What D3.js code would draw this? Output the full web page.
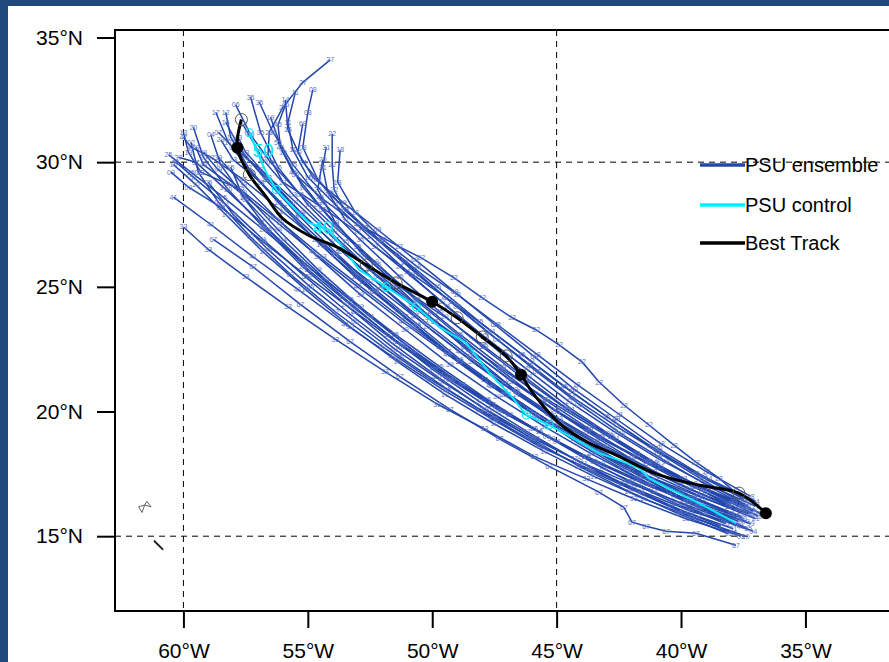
<html>
<head>
<meta charset="utf-8">
<script src="https://cdn.jsdelivr.net/npm/d3@7"></script>
<style>
  body { margin:0; background:#1f497d; }
  text { font-family: "Liberation Sans", Arial, sans-serif; }
</style>
</head>
<body>
<script>
// axis ticks
var lonTicks = [-60, -55, -50, -45, -40, -35];
var latTicks = [15, 20, 25, 30, 35];
var gridLon = [-60, -45];
var gridLat = [15, 30];

// ensemble member ids and tracks (lon, lat), SE -> NW
var ensMembers = ["33","41","09","25","13","49","47","99","07","17","21","15","05","35","35","19","03","55","27","45","11","69","22","31","29","39","43","37","23","51","67",
                  "02","04","06","08","10","12","14","16","18","20"];
var ensTracks = [
 [[-37.9,15.1],[-39.8,15.7],[-41.9,16.5],[-43.8,17.3],[-45.9,18.2],[-47.9,19.3],[-49.8,20.3],[-51.9,21.6],[-53.9,22.9],[-55.8,24.2],[-57.5,25.4],[-59.0,26.5],[-60.0,27.4]],
 [[-37.6,15.4],[-39.6,16.0],[-41.6,16.8],[-43.7,17.7],[-45.7,18.6],[-47.6,19.7],[-49.6,20.9],[-51.6,22.2],[-53.5,23.5],[-55.4,24.9],[-57.2,26.2],[-58.9,27.5],[-60.4,28.6]],
 [[-37.4,15.6],[-39.5,16.3],[-41.5,17.1],[-43.5,18.0],[-45.4,19.0],[-47.4,20.1],[-49.3,21.3],[-51.2,22.6],[-53.1,24.0],[-55.0,25.4],[-56.8,26.8],[-58.5,28.2],[-59.8,29.0],[-60.5,29.6]],
 [[-38.2,15.5],[-40.2,16.3],[-42.1,17.2],[-44.0,18.2],[-45.9,19.3],[-47.8,20.5],[-49.7,21.8],[-51.5,23.1],[-53.3,24.5],[-55.1,25.9],[-56.8,27.3],[-58.4,28.6],[-59.7,29.6],[-60.6,30.3]],
 [[-37.3,15.9],[-39.3,16.6],[-41.3,17.4],[-43.2,18.4],[-45.1,19.5],[-47.0,20.7],[-48.9,22.0],[-50.8,23.4],[-52.6,24.8],[-54.4,26.2],[-56.1,27.6],[-57.7,28.9],[-59.3,29.6],[-59.8,30.4],[-60.0,31.2]],
 [[-38.0,15.9],[-40.0,16.8],[-42.0,17.7],[-43.9,18.7],[-45.8,19.8],[-47.6,21.0],[-49.4,22.3],[-51.2,23.6],[-53.0,25.0],[-54.8,26.4],[-56.5,27.8],[-58.1,29.1],[-59.2,29.9],[-59.5,30.6]],
 [[-37.7,16.1],[-39.7,16.9],[-41.6,17.8],[-43.5,18.8],[-45.3,19.9],[-47.1,21.1],[-48.9,22.4],[-50.7,23.8],[-52.5,25.2],[-54.3,26.6],[-56.0,28.0],[-57.6,29.3],[-58.9,30.2],[-59.7,30.6],[-60.0,31.0]],
 [[-37.2,15.5],[-39.2,16.2],[-41.2,17.0],[-43.2,17.9],[-45.2,18.9],[-47.2,20.0],[-49.2,21.3],[-51.1,22.7],[-52.9,24.2],[-54.6,25.7],[-56.2,27.3],[-57.6,28.8],[-58.6,29.7],[-59.2,30.4]],
 [[-37.5,16.3],[-39.5,17.1],[-41.4,18.0],[-43.3,19.0],[-45.1,20.1],[-46.9,21.3],[-48.7,22.6],[-50.5,24.0],[-52.2,25.4],[-53.9,26.9],[-55.5,28.4],[-56.9,29.7],[-58.0,30.6],[-58.6,31.2]],
 [[-38.3,15.7],[-40.3,16.6],[-42.2,17.6],[-44.1,18.7],[-45.9,19.9],[-47.7,21.1],[-49.4,22.4],[-51.1,23.8],[-52.8,25.2],[-54.5,26.7],[-56.0,28.2],[-57.3,29.6],[-58.2,30.8],[-58.7,32.0]],
 [[-37.0,15.7],[-39.0,16.5],[-41.0,17.4],[-42.9,18.4],[-44.8,19.5],[-46.6,20.7],[-48.4,22.0],[-50.2,23.4],[-51.9,24.9],[-53.6,26.4],[-55.2,27.9],[-56.6,29.3],[-57.5,30.2],[-57.9,30.8]],
 [[-37.8,15.8],[-39.8,16.5],[-41.8,17.3],[-43.8,18.2],[-45.7,19.2],[-47.6,20.3],[-49.5,21.5],[-51.4,22.8],[-53.2,24.2],[-55.0,25.7],[-56.6,27.3],[-57.6,28.6],[-58.1,29.8]],
 [[-37.6,15.0],[-39.6,15.8],[-41.6,16.7],[-43.6,17.6],[-45.6,18.6],[-47.5,19.7],[-49.4,20.9],[-51.3,22.2],[-53.1,23.6],[-54.9,25.0],[-56.6,26.5],[-58.0,27.9],[-59.0,29.2]],
 [[-37.4,16.2],[-39.4,17.0],[-41.3,17.9],[-43.2,18.9],[-45.0,20.0],[-46.8,21.2],[-48.5,22.5],[-50.2,23.9],[-51.9,25.3],[-53.5,26.8],[-55.0,28.3],[-56.2,29.8],[-56.9,31.2],[-57.3,32.6]],
 [[-37.1,16.0],[-39.1,16.9],[-41.0,17.9],[-42.8,19.0],[-44.6,20.1],[-46.3,21.3],[-48.0,22.6],[-49.7,24.0],[-51.3,25.4],[-52.9,26.9],[-54.4,28.4],[-55.6,29.9],[-56.4,31.2],[-56.95,32.4]],
 [[-38.1,16.2],[-40.1,17.1],[-42.0,18.1],[-43.8,19.2],[-45.6,20.4],[-47.3,21.7],[-49.0,23.1],[-50.7,24.5],[-52.3,26.0],[-53.9,27.5],[-55.2,29.0],[-56.0,30.4],[-56.5,31.8]],
 [[-37.9,16.4],[-39.9,17.3],[-41.8,18.3],[-43.6,19.4],[-45.4,20.5],[-47.2,21.7],[-49.0,23.0],[-50.8,24.3],[-52.5,25.7],[-54.1,27.2],[-55.6,28.7],[-56.8,30.1],[-57.6,31.5]],
 [[-37.3,15.3],[-39.3,16.2],[-41.2,17.2],[-43.1,18.3],[-44.9,19.5],[-46.6,20.8],[-48.3,22.2],[-49.9,23.6],[-51.5,25.1],[-53.0,26.6],[-54.4,28.1],[-55.5,29.5],[-56.2,30.8]],
 [[-37.0,16.2],[-39.0,17.1],[-40.9,18.1],[-42.7,19.2],[-44.5,20.4],[-46.2,21.7],[-47.9,23.0],[-49.6,24.4],[-51.3,25.8],[-53.0,27.2],[-54.6,28.3],[-56.0,29.2],[-56.6,30.3],[-56.55,31.2],[-56.0,32.2],[-55.2,33.2],[-54.1,34.1]],
 [[-37.5,16.5],[-39.4,17.5],[-41.2,18.6],[-43.0,19.8],[-44.7,21.0],[-46.4,22.3],[-48.1,23.6],[-49.8,25.0],[-51.4,26.3],[-53.0,27.5],[-54.5,28.6],[-55.6,29.6],[-56.1,30.6],[-56.2,31.5],[-55.9,32.3]],
 [[-36.9,15.8],[-38.9,16.8],[-40.8,17.8],[-42.6,18.9],[-44.4,20.1],[-46.1,21.4],[-47.8,22.8],[-49.4,24.2],[-51.0,25.6],[-52.5,27.0],[-53.9,28.3],[-55.0,29.4],[-55.6,30.5],[-55.8,31.6],[-55.5,32.8]],
 [[-37.2,16.4],[-39.1,17.4],[-40.9,18.5],[-42.6,19.7],[-44.3,20.9],[-45.9,22.2],[-47.5,23.5],[-49.1,24.8],[-50.7,26.1],[-52.2,27.3],[-53.6,28.4],[-54.8,29.4],[-55.4,30.4],[-55.2,31.55]],
 [[-37.47,16.45],[-38.47,17.33],[-39.4,17.97],[-40.28,18.65],[-41.29,19.46],[-42.29,20.26],[-43.29,21.18],[-43.98,21.99],[-44.9,22.67],[-45.82,23.27],[-46.79,23.76],[-47.99,24.56],[-49.12,25.36],[-50.44,26.16],[-51.33,26.61],[-52.73,27.37],[-53.53,28.09],[-53.94,28.9],[-54.02,29.9],[-54.02,31.14]],
 [[-37.3,16.2],[-39.2,17.3],[-41.0,18.4],[-42.7,19.6],[-44.4,20.8],[-46.0,22.0],[-47.6,23.2],[-49.2,24.4],[-50.8,25.5],[-52.3,26.6],[-53.5,27.7],[-54.2,28.8],[-54.4,29.8],[-54.26,30.6]],
 [[-37.6,16.0],[-39.5,17.0],[-41.3,18.0],[-43.0,19.1],[-44.7,20.2],[-46.3,21.4],[-47.9,22.6],[-49.5,23.8],[-51.3,25.0],[-52.8,26.3],[-53.9,27.6],[-54.6,28.9],[-54.4,30.1]],
 [[-37.7,15.6],[-39.7,16.4],[-41.7,17.3],[-43.6,18.3],[-45.5,19.4],[-47.4,20.6],[-49.3,21.9],[-51.1,23.3],[-52.9,24.7],[-54.6,26.2],[-56.2,27.7],[-57.6,29.1],[-58.6,30.2]],
 [[-37.2,15.9],[-39.2,16.7],[-41.1,17.6],[-43.0,18.6],[-44.9,19.7],[-46.7,20.9],[-48.5,22.2],[-50.3,23.6],[-52.0,25.0],[-53.7,26.5],[-55.3,28.0],[-56.6,29.4],[-57.5,30.4],[-57.8,31.0]],
 [[-38.4,15.4],[-40.4,16.2],[-42.4,17.1],[-44.3,18.1],[-46.2,19.2],[-48.1,20.4],[-50.0,21.7],[-51.8,23.1],[-53.6,24.6],[-55.3,26.1],[-56.9,27.6],[-58.4,29.0],[-59.5,30.0],[-60.2,30.2]],
 [[-37.5,15.7],[-39.5,16.5],[-41.5,17.4],[-43.4,18.4],[-45.3,19.5],[-47.1,20.7],[-48.9,22.0],[-50.6,23.4],[-52.3,24.8],[-53.9,26.3],[-55.5,27.8],[-56.9,29.2],[-58.0,30.1],[-58.5,30.9]],
 [[-37.9,15.3],[-39.9,16.0],[-41.9,16.9],[-43.9,17.9],[-45.8,18.9],[-47.7,20.0],[-49.6,21.2],[-51.5,22.5],[-53.3,23.9],[-55.1,25.4],[-56.8,26.9],[-58.3,28.3],[-59.6,29.4],[-60.3,30.0]],
 [[-37.79,14.64],[-39.4,15.12],[-40.6,15.2],[-41.4,15.4],[-41.97,15.56],[-42.3,16.16],[-43.3,16.77],[-45.3,17.8],[-47.3,18.9],[-49.3,20.1],[-51.3,21.4],[-53.3,22.8],[-55.3,24.3],[-57.2,25.8],[-58.8,26.9]],
 [[-37.8,15.5],[-39.9,16.3],[-42.0,17.1],[-44.1,18.0],[-46.1,19.0],[-48.1,20.1],[-50.1,21.3],[-52.0,22.6],[-53.9,24.0],[-55.7,25.5],[-57.3,27.0],[-58.6,28.4],[-59.4,29.6],[-59.7,30.8]],
 [[-37.1,15.2],[-39.1,15.9],[-41.1,16.8],[-43.1,17.7],[-45.0,18.8],[-46.9,19.9],[-48.8,21.1],[-50.7,22.4],[-52.5,23.8],[-54.3,25.3],[-56.0,26.9],[-57.5,28.5],[-58.5,29.9],[-58.9,31.1]],
 [[-38.0,16.3],[-40.0,17.2],[-41.9,18.2],[-43.7,19.3],[-45.5,20.5],[-47.2,21.8],[-48.9,23.1],[-50.6,24.5],[-52.2,25.9],[-53.8,27.3],[-55.3,28.7],[-56.5,30.0],[-57.3,31.1],[-57.9,32.3]],
 [[-36.8,15.9],[-38.7,16.9],[-40.6,18.0],[-42.4,19.1],[-44.1,20.3],[-45.8,21.6],[-47.4,22.9],[-49.0,24.2],[-50.6,25.5],[-52.1,26.8],[-53.5,28.1],[-54.6,29.3],[-55.2,30.6],[-55.0,32.0],[-54.8,32.9]],
 [[-37.4,15.0],[-39.4,15.7],[-41.5,16.5],[-43.5,17.4],[-45.5,18.4],[-47.5,19.5],[-49.5,20.7],[-51.4,22.0],[-53.3,23.4],[-55.1,24.9],[-56.8,26.4],[-58.3,27.9],[-59.5,29.1],[-60.4,29.9]],
 [[-38.5,15.9],[-40.5,16.8],[-42.4,17.8],[-44.3,18.9],[-46.1,20.0],[-47.9,21.3],[-49.7,22.6],[-51.4,24.0],[-53.1,25.4],[-54.7,26.9],[-56.2,28.4],[-57.4,29.8],[-58.1,31.0],[-58.3,32.0]],
 [[-37.0,16.4],[-38.9,17.3],[-40.8,18.3],[-42.6,19.4],[-44.4,20.6],[-46.1,21.9],[-47.8,23.2],[-49.5,24.6],[-51.1,26.0],[-52.7,27.4],[-54.1,28.7],[-55.2,30.0],[-55.8,31.3],[-55.9,32.5]],
 [[-37.6,15.8],[-39.6,16.6],[-41.5,17.5],[-43.4,18.5],[-45.3,19.6],[-47.1,20.8],[-48.9,22.1],[-50.6,23.5],[-52.3,24.9],[-53.9,26.4],[-55.4,27.9],[-56.7,29.3],[-57.7,30.5],[-58.3,31.6]],
 [[-37.2,16.6],[-39.0,17.6],[-40.8,18.7],[-42.5,19.9],[-44.2,21.1],[-45.8,22.3],[-47.4,23.5],[-49.0,24.7],[-50.6,25.8],[-52.0,26.9],[-53.1,28.0],[-53.8,29.2],[-53.7,30.5]],
 [[-38.1,15.1],[-40.1,15.9],[-42.1,16.8],[-44.1,17.8],[-46.0,18.9],[-47.9,20.1],[-49.8,21.4],[-51.7,22.8],[-53.5,24.3],[-55.2,25.8],[-56.8,27.4],[-58.2,28.9],[-59.2,30.2],[-59.6,31.4]]
];

// PSU control
var ctlLon = [-37.79,-38.88,-39.68,-40.6,-41.29,-41.69,-42.49,-43.29,-43.69,-45.3,-46.22,-46.79,-47.71,-48.63,-49.72,-50.64,-51.85,-52.93,-54.14,-54.94,-55.62,-56.27,-56.67,-56.95,-57.35];
var ctlLat = [15.52,16.12,16.53,16.97,17.33,17.73,18.05,18.33,18.57,19.46,19.86,20.58,21.55,22.75,23.39,24.2,25.0,25.68,27.29,27.57,28.21,28.9,29.58,30.22,31.18];
var ctlCircle = [9, 10, 15, 16, 21, 24];
var ctlTagText = ["50", "40"];
var ctlTagLon = [-56.8, -54.4];
var ctlTagLat = [30.5, 27.4];

// Best track, mark: f = 00Z filled, o = open
var bestLon = [-36.59,-37.67,-39.3,-41.0,-42.5,-43.8,-44.8,-45.6,-46.1,-46.43,-47.03,-47.99,-49.0,-50.0,-51.45,-52.65,-53.86,-54.94,-56.02,-56.67,-57.35,-57.83,-57.67];
var bestLat = [15.92,16.73,17.05,17.5,18.2,18.8,19.45,20.3,20.95,21.47,22.23,22.99,23.76,24.4,25.16,25.88,26.61,27.05,27.75,28.61,29.5,30.58,31.71];
var bestMark = ["f","o","","","","","","","","f","o","o","o","f","o","o","","","","","o","f","o"];

// coastline bits (Guadeloupe, Martinique)
var islands = [
 [[-61.8,16.18],[-61.66,15.95],[-61.56,16.25],[-61.8,16.18]],
 [[-61.56,16.25],[-61.47,16.4],[-61.3,16.18],[-61.56,16.25]]
];
var martinique = [[-61.16,14.8],[-60.84,14.48]];

var legendNames = ["PSU ensemble", "PSU control", "Best Track"];
var legendColors = ["#2347ab", "#00f0ff", "#000"];

var width = 889, height = 662;
var svg = d3.select("body").append("svg")
    .attr("width", width).attr("height", height)
    .style("display", "block");

svg.append("rect").attr("width", width).attr("height", height).attr("fill", "#1f497d");
svg.append("rect").attr("x", 8).attr("y", 6).attr("width", width - 8).attr("height", height - 6).attr("fill", "#fff");

var x = d3.scaleLinear().domain([-62.75, -30]).range([115, 115 + 32.75 * 24.88]);
var y = d3.scaleLinear().domain([12, 35.3]).range([611, 30]);

svg.append("clipPath").attr("id", "clip")
   .append("rect").attr("x", 115).attr("y", 30).attr("width", 820).attr("height", 581);

var plot = svg.append("g").attr("clip-path", "url(#clip)");

// grid
plot.selectAll(".gx").data(gridLon).join("line")
    .attr("x1", d => x(d)).attr("x2", d => x(d))
    .attr("y1", 30).attr("y2", 611)
    .attr("stroke", "#000").attr("stroke-width", 1).attr("stroke-dasharray", "6,5");
plot.selectAll(".gy").data(gridLat).join("line")
    .attr("y1", d => y(d)).attr("y2", d => y(d))
    .attr("x1", 115).attr("x2", 935)
    .attr("stroke", "#000").attr("stroke-width", 1).attr("stroke-dasharray", "6,5");

// islands
var geoLine = d3.line().x(d => x(d[0])).y(d => y(d[1]));
plot.selectAll(".isl").data(islands).join("path")
    .attr("d", geoLine).attr("fill", "none").attr("stroke", "#666").attr("stroke-width", 1);
plot.append("path").attr("d", geoLine(martinique))
    .attr("stroke", "#222").attr("stroke-width", 2).attr("stroke-linecap", "round");

// ensemble
var eg = plot.append("g");
eg.selectAll("path").data(ensTracks).join("path")
    .attr("d", geoLine)
    .attr("fill", "none")
    .attr("stroke", "#2347ab")
    .attr("stroke-width", 1.5);

var labs = [];
ensTracks.forEach(function(t, i) {
    t.forEach(function(p) { labs.push({lon: p[0], lat: p[1], m: ensMembers[i]}); });
});
eg.selectAll("text").data(labs).join("text")
    .attr("x", d => x(d.lon)).attr("y", d => y(d.lat) + 2.5)
    .attr("text-anchor", "middle")
    .attr("font-size", 7)
    .attr("fill", "#5a72c8")
    .text(d => d.m);

// control
var ctlPts = ctlLon.map((d, i) => [d, ctlLat[i]]);
plot.append("path").attr("d", geoLine(ctlPts))
    .attr("fill", "none").attr("stroke", "#00eaff").attr("stroke-width", 2);
plot.selectAll(".cc").data(ctlCircle).join("circle")
    .attr("cx", d => x(ctlPts[d][0])).attr("cy", d => y(ctlPts[d][1]))
    .attr("r", 4).attr("fill", "none").attr("stroke", "#00eaff").attr("stroke-width", 1.2);
plot.selectAll(".ct").data(ctlTagText).join("text")
    .attr("x", (d, i) => x(ctlTagLon[i])).attr("y", (d, i) => y(ctlTagLat[i]) + 7)
    .attr("text-anchor", "middle").attr("font-size", 19).attr("fill", "#00eaff")
    .text(d => d);

// best track
var bestPts = bestLon.map((d, i) => [d, bestLat[i], bestMark[i]]);
plot.append("path")
    .attr("d", d3.line().x(d => x(d[0])).y(d => y(d[1])).curve(d3.curveCatmullRom)(bestPts))
    .attr("fill", "none").attr("stroke", "#000").attr("stroke-width", 3);
plot.selectAll(".bo").data(bestPts.filter(d => d[2] == "o")).join("circle")
    .attr("cx", d => x(d[0])).attr("cy", d => y(d[1])).attr("r", 6)
    .attr("fill", "none").attr("stroke", "#555").attr("stroke-width", 1);
plot.selectAll(".bf").data(bestPts.filter(d => d[2] == "f")).join("circle")
    .attr("cx", d => x(d[0])).attr("cy", d => y(d[1])).attr("r", 6)
    .attr("fill", "#000");

// frame
svg.append("rect").attr("x", 115).attr("y", 30).attr("width", 820).attr("height", 581)
    .attr("fill", "none").attr("stroke", "#000").attr("stroke-width", 2);

// axes
var ay = svg.append("g").attr("transform", "translate(115,0)")
    .call(d3.axisLeft(y).tickValues(latTicks).tickSize(18).tickPadding(14).tickFormat(d => d + "°N"));
var ax = svg.append("g").attr("transform", "translate(0,611)")
    .call(d3.axisBottom(x).tickValues(lonTicks).tickSize(17).tickPadding(15).tickFormat(d => (-d) + "°W"));
[ax, ay].forEach(function(a) {
    a.select(".domain").remove();
    a.selectAll("line").attr("stroke-width", 2);
    a.selectAll("text").attr("font-size", 21).attr("font-family", "Liberation Sans, Arial, sans-serif").attr("fill", "#000");
});

// legend
var lg = svg.append("g");
legendNames.forEach(function(n, i) {
    var ly = [165, 205, 243][i];
    lg.append("line").attr("x1", 700).attr("x2", 745).attr("y1", ly).attr("y2", ly)
      .attr("stroke", legendColors[i]).attr("stroke-width", 3.5);
    lg.append("text").attr("x", 745).attr("y", ly + 7).attr("font-size", 20).attr("fill", "#000").text(n);
});
</script>
</body>
</html>
